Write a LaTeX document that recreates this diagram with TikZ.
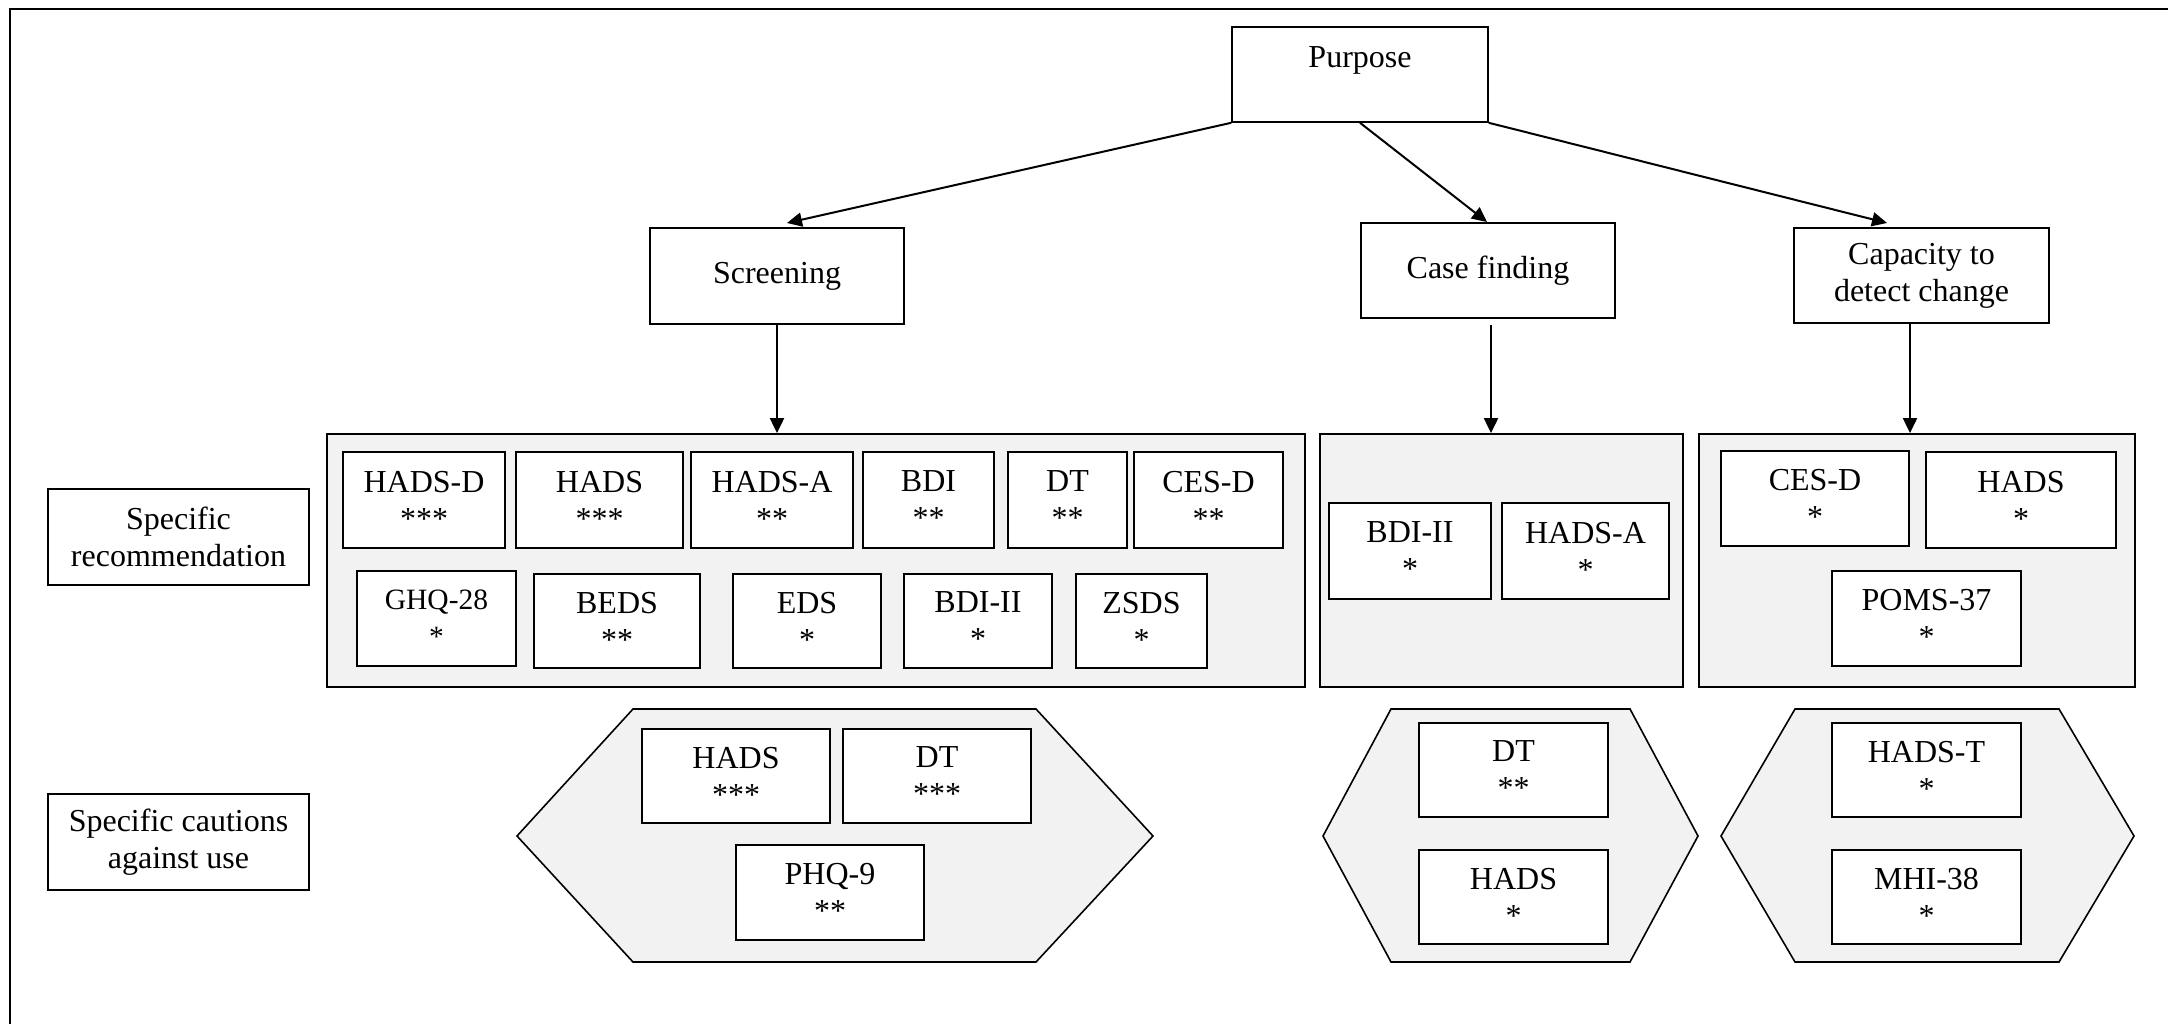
\documentclass[tikz,border=0pt]{standalone}
\usepackage{fontspec}
\setmainfont{Liberation Serif}
\usetikzlibrary{arrows.meta,calc}
\definecolor{panelgray}{HTML}{F2F2F2}
\newcommand\ibox[6]{\node[box, minimum width={#4-#2}, minimum height={#5-#3}] (#1) at ({(#2+#4)/2},{(#3+#5)/2}) {#6};}
\begin{document}
\begin{tikzpicture}[x=1pt,y=-1pt,
  box/.style={draw, line width=1.6pt, fill=white, inner sep=0pt, align=center, font=\fontsize{32}{37}\selectfont},
  panel/.style={draw, line width=1.8pt, fill=panelgray, inner sep=0pt},
  hexa/.style={draw, line width=1.6pt, fill=panelgray},
  arr/.style={line width=2pt, -{Triangle[length=15pt,width=14pt]}}]
\useasboundingbox (0,0) rectangle (2168,1024);
\draw[line width=2pt] (10,1024) -- (10,9) -- (2168,9);

% top level
\ibox{purpose}{1232}{27}{1488}{122}{}
\node[anchor=base, font=\fontsize{32}{37}\selectfont] (purposetext) at (1360,68) {Purpose};
\ibox{screening}{650}{228}{904}{324}{Screening}
\ibox{casefind}{1361}{223}{1615}{318}{Case finding}
\ibox{capacity}{1794}{228}{2049}{323}{Capacity to\\detect change}

\coordinate (scrtip) at (787,223);
\coordinate (cftip) at (1487,222);
\coordinate (cptip) at (1887,223);
\draw[arr] (purpose.south west) -- (scrtip);
\draw[arr] (purpose.south) -- (cftip);
\draw[arr] (purpose.south east) -- (cptip);

% panels
\node[panel, minimum width=978, minimum height=253] (scrpanel) at (816,560.5) {};
\node[panel, minimum width=363, minimum height=253] (cfpanel) at (1501.5,560.5) {};
\node[panel, minimum width=436, minimum height=253] (cppanel) at (1917,560.5) {};

\draw[arr] (screening.south) -- (screening.south |- scrpanel.north);
\draw[arr] ([xshift=3pt,yshift=-6pt]casefind.south) -- ([xshift=3pt]casefind.south |- cfpanel.north);
\draw[arr] ([xshift=-11.5pt]capacity.south) -- ([xshift=-11.5pt]capacity.south |- cppanel.north);

% screening recommendations
\ibox{hadsd}{343}{452}{505}{548}{HADS-D\\***}
\ibox{hadsa}{516}{452}{683}{548}{HADS\\***}
\ibox{hadsaa}{691}{452}{853}{548}{HADS-A\\**}
\ibox{bdi}{863}{452}{994}{548}{BDI\\**}
\ibox{dta}{1008}{452}{1127}{548}{DT\\**}
\ibox{cesda}{1134}{452}{1283}{548}{CES-D\\**}
\node[box, minimum width=159, minimum height=95, font=\fontsize{29.5}{37}\selectfont] (ghq) at (436.5,618.5) {GHQ-28\\*};
\ibox{beds}{534}{574}{700}{668}{BEDS\\**}
\ibox{eds}{733}{574}{881}{668}{EDS\\*}
\ibox{bdiiia}{904}{574}{1052}{668}{BDI-II\\*}
\ibox{zsds}{1076}{574}{1207}{668}{ZSDS\\*}

% case finding recommendations
\ibox{bdiiib}{1329}{503}{1491}{599}{BDI-II\\*}
\ibox{hadsab}{1502}{503}{1669}{599}{HADS-A\\*}

% capacity recommendations
\ibox{cesdb}{1721}{451}{1909}{546}{CES-D\\*}
\ibox{hadsb}{1926}{452}{2116}{548}{HADS\\*}
\ibox{poms}{1832}{571}{2021}{666}{POMS-37\\*}

% hexagons
\draw[hexa] (517,836) -- (633,709) -- (1036,709) -- (1153,836) -- (1036,962) -- (633,962) -- cycle;
\draw[hexa] (1323,836) -- (1391,709) -- (1630,709) -- (1698,836) -- (1630,962) -- (1391,962) -- cycle;
\draw[hexa] (1721,836) -- (1795,709) -- (2059,709) -- (2134,836) -- (2059,962) -- (1795,962) -- cycle;

\ibox{hadsc}{642}{729}{830}{823}{HADS\\***}
\ibox{dtb}{843}{729}{1031}{823}{DT\\***}
\ibox{phq}{736}{845}{924}{940}{PHQ-9\\**}
\ibox{dtc}{1419}{723}{1608}{817}{DT\\**}
\ibox{hadsd2}{1419}{850}{1608}{944}{HADS\\*}
\ibox{hadst}{1832}{723}{2021}{817}{HADS-T\\*}
\ibox{mhi}{1832}{850}{2021}{944}{MHI-38\\*}

% row labels
\ibox{reclabel}{48}{489}{309}{585}{Specific\\recommendation}
\ibox{cautlabel}{48}{794}{309}{890}{Specific cautions\\against use}
\end{tikzpicture}
\end{document}
